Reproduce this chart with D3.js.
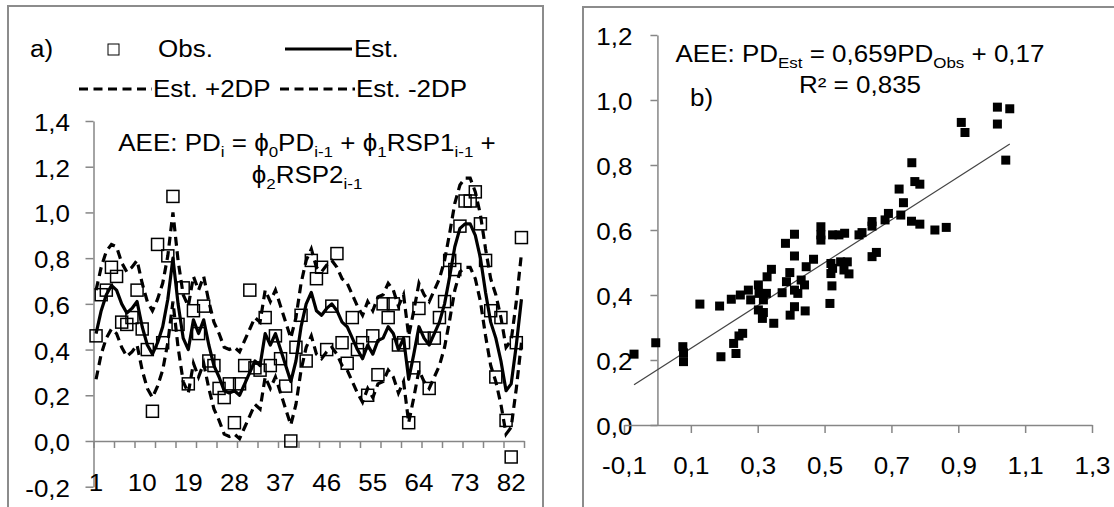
<!DOCTYPE html>
<html>
<head>
<meta charset="utf-8">
<script src="https://cdnjs.cloudflare.com/ajax/libs/d3/7.8.5/d3.min.js"></script>
<style>
body { margin: 0; background: #fff; }
svg text { font-family: "Liberation Sans", Arial, sans-serif; fill: #000; }
</style>
</head>
<body>
<div id="chart"></div>
<script>
//DATA - PANEL a) (series by category 1..84)
var categories = d3.range(1, 85);

var obsA = [0.46, 0.64, 0.66, 0.76, 0.72, 0.52, 0.51, 0.54, 0.66, 0.49,
    0.40, 0.13, 0.86, 0.43, 0.81, 1.07, 0.51, 0.67, 0.25, 0.57,
    0.47, 0.59, 0.35, 0.33, 0.23, 0.19, 0.25, 0.08, 0.25, 0.33,
    0.66, 0.32, 0.31, 0.54, 0.33, 0.46, 0.36, 0.24, 0.00, 0.41,
    0.55, 0.35, 0.79, 0.71, 0.76, 0.40, 0.59, 0.82, 0.43, 0.34,
    0.54, 0.40, 0.43, 0.20, 0.46, 0.29, 0.60, 0.54, 0.60, 0.42,
    0.43, 0.08, 0.32, 0.58, 0.45, 0.23, 0.45, 0.54, 0.61, 0.79,
    0.75, 0.94, 1.05, 1.05, 1.09, 0.95, 0.79, 0.57, 0.28, 0.54,
    0.09, -0.07, 0.43, 0.89];

var estA = [0.47, 0.57, 0.64, 0.68, 0.66, 0.60, 0.56, 0.58, 0.61, 0.50,
    0.42, 0.38, 0.43, 0.50, 0.62, 0.80, 0.60, 0.45, 0.40, 0.53,
    0.47, 0.53, 0.42, 0.33, 0.28, 0.22, 0.21, 0.22, 0.20, 0.25,
    0.30, 0.35, 0.33, 0.47, 0.42, 0.47, 0.40, 0.33, 0.26, 0.35,
    0.50, 0.60, 0.65, 0.57, 0.55, 0.58, 0.60, 0.57, 0.52, 0.50,
    0.45, 0.40, 0.36, 0.42, 0.38, 0.44, 0.45, 0.50, 0.47, 0.40,
    0.45, 0.27, 0.38, 0.50, 0.45, 0.42, 0.47, 0.52, 0.60, 0.72,
    0.85, 0.93, 0.95, 0.95, 0.90, 0.80, 0.65, 0.52, 0.45, 0.35,
    0.22, 0.25, 0.42, 0.62];

var estPlus = [0.66, 0.76, 0.83, 0.86, 0.85, 0.78, 0.74, 0.76, 0.79, 0.69,
    0.61, 0.57, 0.62, 0.69, 0.81, 1.00, 0.79, 0.64, 0.59, 0.72,
    0.66, 0.72, 0.61, 0.52, 0.47, 0.41, 0.40, 0.41, 0.39, 0.44,
    0.49, 0.54, 0.52, 0.66, 0.61, 0.66, 0.59, 0.52, 0.45, 0.54,
    0.69, 0.79, 0.84, 0.76, 0.74, 0.77, 0.79, 0.76, 0.71, 0.69,
    0.64, 0.59, 0.55, 0.61, 0.57, 0.63, 0.64, 0.69, 0.66, 0.59,
    0.64, 0.46, 0.57, 0.69, 0.64, 0.61, 0.66, 0.71, 0.79, 0.91,
    1.04, 1.12, 1.15, 1.15, 1.09, 0.99, 0.84, 0.71, 0.64, 0.54,
    0.41, 0.44, 0.61, 0.82];

var estMinus = [0.27, 0.38, 0.45, 0.49, 0.47, 0.41, 0.37, 0.39, 0.42, 0.31,
    0.23, 0.19, 0.24, 0.31, 0.43, 0.61, 0.41, 0.26, 0.21, 0.34,
    0.28, 0.34, 0.23, 0.14, 0.09, 0.03, 0.02, 0.03, 0.01, 0.06,
    0.11, 0.16, 0.14, 0.28, 0.23, 0.28, 0.21, 0.14, 0.07, 0.16,
    0.31, 0.41, 0.46, 0.38, 0.36, 0.39, 0.41, 0.38, 0.33, 0.31,
    0.26, 0.21, 0.17, 0.23, 0.19, 0.25, 0.26, 0.31, 0.28, 0.21,
    0.26, 0.08, 0.19, 0.31, 0.26, 0.23, 0.28, 0.33, 0.41, 0.53,
    0.66, 0.74, 0.76, 0.76, 0.71, 0.61, 0.46, 0.33, 0.26, 0.16,
    0.03, 0.06, 0.23, 0.43];

var catLabels = [1, 10, 19, 28, 37, 46, 55, 64, 73, 82];
var catTickBounds = [0, 4, 8, 12, 16, 20, 24, 28, 32, 36, 40, 44, 48, 52, 56, 60, 64, 68, 72, 76, 80, 84];
var leftYTicks = [-0.2, 0, 0.2, 0.4, 0.6, 0.8, 1.0, 1.2, 1.4];
var leftYLabels = ["-0,2", "0,0", "0,2", "0,4", "0,6", "0,8", "1,0", "1,2", "1,4"];

//DATA - PANEL b) scatter
var scatterObs = [-0.07, -0.005, 0.076, 0.078, 0.078, 0.19, 0.228, 0.244, 0.255, 0.235,
    0.127, 0.186, 0.221, 0.248, 0.272, 0.279, 0.302, 0.304, 0.317, 0.326,
    0.328, 0.341, 0.302, 0.317, 0.314, 0.348, 0.373, 0.386, 0.396, 0.41,
    0.42, 0.43, 0.44, 0.445, 0.397, 0.41, 0.442, 0.41, 0.467, 0.383,
    0.41, 0.489, 0.489, 0.489, 0.524, 0.543, 0.56, 0.519, 0.519, 0.524,
    0.548, 0.568, 0.558, 0.573, 0.522, 0.516, 0.603, 0.612, 0.642, 0.642,
    0.681, 0.691, 0.728, 0.736, 0.723, 0.761, 0.770, 0.785, 0.760, 0.785,
    0.830, 0.864, 0.642, 0.655, 0.909, 0.920, 1.017, 1.054, 1.017, 1.042];
var scatterEst = [0.218, 0.253, 0.241, 0.222, 0.195, 0.21, 0.251, 0.274, 0.282, 0.22,
    0.372, 0.366, 0.387, 0.40, 0.415, 0.385, 0.431, 0.405, 0.385, 0.405,
    0.456, 0.479, 0.354, 0.346, 0.328, 0.313, 0.407, 0.441, 0.469, 0.415,
    0.405, 0.446, 0.431, 0.487, 0.338, 0.364, 0.351, 0.52, 0.51, 0.559,
    0.587, 0.61, 0.585, 0.569, 0.585, 0.585, 0.59, 0.497, 0.466, 0.482,
    0.502, 0.502, 0.477, 0.465, 0.428, 0.374, 0.585, 0.592, 0.626, 0.612,
    0.631, 0.651, 0.646, 0.684, 0.726, 0.807, 0.749, 0.741, 0.627, 0.618,
    0.60, 0.608, 0.518, 0.531, 0.931, 0.90, 0.978, 0.973, 0.926, 0.815];
var trendSlope = 0.659;
var trendIntercept = 0.17;

var rightXTicks = [-0.1, 0.1, 0.3, 0.5, 0.7, 0.9, 1.1, 1.3];
var rightXLabels = ["-0,1", "0,1", "0,3", "0,5", "0,7", "0,9", "1,1", "1,3"];
var rightYTicks = [0, 0.2, 0.4, 0.6, 0.8, 1.0, 1.2];
var rightYLabels = ["0,0", "0,2", "0,4", "0,6", "0,8", "1,0", "1,2"];


//SIZING / TEXT
var SX = 1.13;   // text in the picture is a bit wide
var FS = 23;
var axisColor = "#868686";

var svg = d3.select("#chart").append("svg")
    .attr("width", 1114)
    .attr("height", 507);

// text inside a horizontally stretched group
function label(x, y, anchor) {
    return svg.append("g")
        .attr("transform", "translate(" + x + "," + y + ") scale(" + SX + ",1)")
        .append("text")
        .attr("text-anchor", anchor)
        .style("font-size", FS + "px");
}

// runs = [[text, isSub], ...]
function addRuns(t, runs) {
    var shift = 0;
    runs.forEach(function (r) {
        var sp = t.append("tspan").text(r[0]);
        if (r[1]) {
            sp.style("font-size", "15px").attr("dy", 6 - shift);
            shift = 6;
        } else {
            sp.attr("dy", -shift);
            shift = 0;
        }
    });
}

function styleAxis(g) {
    g.select(".domain").attr("stroke", axisColor).attr("stroke-width", 1.5);
    g.selectAll(".tick line").attr("stroke", axisColor).attr("stroke-width", 1.5);
}


//PANEL FRAMES
svg.append("rect").attr("x", 8).attr("y", 6).attr("width", 535).attr("height", 530)
    .attr("fill", "none").attr("stroke", "#8c8c8c").attr("stroke-width", 2);
svg.append("rect").attr("x", 583).attr("y", 7).attr("width", 540).attr("height", 530)
    .attr("fill", "none").attr("stroke", "#8c8c8c").attr("stroke-width", 2);


//PANEL a)
var xA = d3.scaleLinear().domain([0, 84]).range([93.5, 524]);
var yA = d3.scaleLinear().domain([-0.2, 1.4]).range([486.7, 121]);
function catX(c) { return xA(c - 0.5); }

var yAxisA = svg.append("g")
    .attr("transform", "translate(" + xA(0) + ",0)")
    .call(d3.axisLeft(yA).tickValues(leftYTicks).tickSize(8).tickSizeOuter(0)
        .tickFormat(function (d, i) { return leftYLabels[i]; }));
styleAxis(yAxisA);
yAxisA.selectAll("text")
    .attr("x", -23.5 / SX).attr("dy", 9.5)
    .attr("transform", "scale(" + SX + ",1)")
    .style("font-size", FS + "px");

var xAxisA = svg.append("g")
    .attr("transform", "translate(0," + yA(0) + ")")
    .call(d3.axisBottom(xA).tickValues(catTickBounds).tickSize(7).tickSizeOuter(0).tickFormat(""));
styleAxis(xAxisA);
xAxisA.selectAll("text").remove();

// category labels sit low, under the -0,2 line
catLabels.forEach(function (c) {
    label(catX(c), 491, "middle").text(c);
});

// observed squares
svg.append("g").selectAll("rect")
    .data(obsA)
    .enter().append("rect")
    .attr("x", function (d, i) { return catX(categories[i]) - 6; })
    .attr("y", function (d) { return yA(d) - 6; })
    .attr("width", 12).attr("height", 12)
    .attr("fill", "none").attr("stroke", "#000").attr("stroke-width", 1.5);

var lineA = d3.line()
    .x(function (d, i) { return catX(categories[i]); })
    .y(function (d) { return yA(d); });

[estPlus, estMinus].forEach(function (s) {
    svg.append("path").datum(s).attr("d", lineA)
        .attr("fill", "none").attr("stroke", "#000").attr("stroke-width", 3.2)
        .attr("stroke-dasharray", "9,5.5");
});
svg.append("path").datum(estA).attr("d", lineA)
    .attr("fill", "none").attr("stroke", "#000").attr("stroke-width", 3.2)
    .attr("stroke-linejoin", "round");

// LEGEND a)
label(30, 57, "start").text("a)");
svg.append("rect").attr("x", 108).attr("y", 44).attr("width", 11).attr("height", 11)
    .attr("fill", "#fff").attr("stroke", "#000").attr("stroke-width", 1);
label(158, 57, "start").text("Obs.");
svg.append("line").attr("x1", 285).attr("x2", 352).attr("y1", 49).attr("y2", 49)
    .attr("stroke", "#000").attr("stroke-width", 3.2);
label(354, 57, "start").text("Est.");
svg.append("line").attr("x1", 79).attr("x2", 152).attr("y1", 89).attr("y2", 89)
    .attr("stroke", "#000").attr("stroke-width", 3.2).attr("stroke-dasharray", "9,5.5");
label(153, 97, "start").text("Est. +2DP");
svg.append("line").attr("x1", 280).attr("x2", 355).attr("y1", 89).attr("y2", 89)
    .attr("stroke", "#000").attr("stroke-width", 3.2).attr("stroke-dasharray", "9,5.5");
label(356, 97, "start").text("Est. -2DP");

// EQUATION a)
addRuns(label(307, 151, "middle"), [["AEE: PD", 0], ["i", 1], [" = \u03d5", 0], ["0", 1], ["PD", 0],
    ["i-1", 1], [" + \u03d5", 0], ["1", 1], ["RSP1", 0], ["i-1", 1], [" +", 0]]);
addRuns(label(307, 183, "middle"), [["\u03d5", 0], ["2", 1], ["RSP2", 0], ["i-1", 1]]);


//PANEL b)
var xB = d3.scaleLinear().domain([-0.1, 1.3]).range([624, 1092]);
var yB = d3.scaleLinear().domain([0, 1.2]).range([425, 35]);

var yAxisB = svg.append("g")
    .attr("transform", "translate(" + xB(0) + ",0)")
    .call(d3.axisLeft(yB).tickValues(rightYTicks).tickSize(7).tickSizeOuter(0)
        .tickFormat(function (d, i) { return rightYLabels[i]; }));
styleAxis(yAxisB);
yAxisB.selectAll("text")
    .attr("x", -25 / SX).attr("dy", 9.5)
    .attr("transform", "scale(" + SX + ",1)")
    .style("font-size", FS + "px");

var xAxisB = svg.append("g")
    .attr("transform", "translate(0," + yB(0) + ")")
    .call(d3.axisBottom(xB).tickValues(rightXTicks).tickSize(8).tickSizeOuter(0)
        .tickFormat(function (d, i) { return rightXLabels[i]; }));
styleAxis(xAxisB);
xAxisB.selectAll("text")
    .attr("y", 49).attr("dy", null)
    .attr("transform", "scale(" + SX + ",1)")
    .style("font-size", FS + "px");

// trend line
var tx0 = d3.min(scatterObs), tx1 = d3.max(scatterObs);
svg.append("line")
    .attr("x1", xB(tx0)).attr("y1", yB(trendSlope * tx0 + trendIntercept))
    .attr("x2", xB(tx1)).attr("y2", yB(trendSlope * tx1 + trendIntercept))
    .attr("stroke", "#444").attr("stroke-width", 1.2);

svg.append("g").selectAll("rect")
    .data(scatterObs)
    .enter().append("rect")
    .attr("x", function (d) { return xB(d) - 4.5; })
    .attr("y", function (d, i) { return yB(scatterEst[i]) - 4.5; })
    .attr("width", 9).attr("height", 9)
    .attr("fill", "#000");

addRuns(label(860, 62, "middle"), [["AEE: PD", 0], ["Est", 1], [" = 0,659PD", 0], ["Obs", 1], [" + 0,17", 0]]);
label(860, 93, "middle").text("R\u00b2 = 0,835");
label(690, 106, "start").text("b)");
</script>
</body>
</html>
